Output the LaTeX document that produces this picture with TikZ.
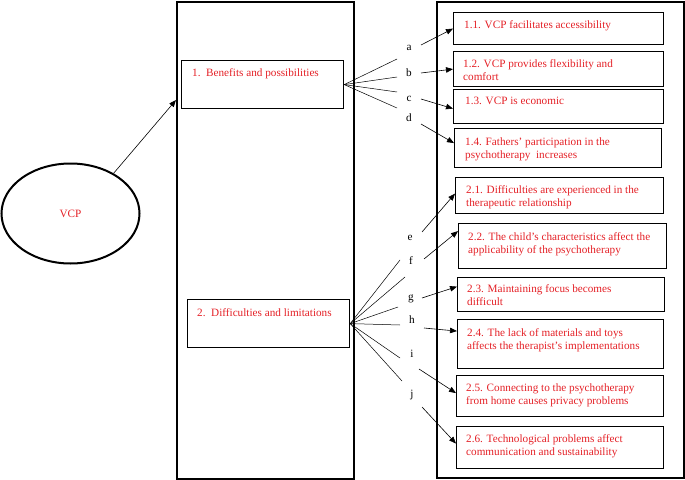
\documentclass[tikz,border=0pt]{standalone}
\usepackage{fontspec}
\setmainfont{Liberation Serif}
\usetikzlibrary{arrows.meta,calc,shapes.geometric}
\definecolor{txtred}{RGB}{228,32,38}
\begin{document}
\begin{tikzpicture}[x=1pt,y=-1pt,
  bigbox/.style={draw, line width=1.7pt, anchor=north west, inner sep=0pt},
  subbox/.style={draw, line width=1.2pt, anchor=north west, inner sep=0pt},
  boxtext/.style={anchor=north west, text=txtred, font=\fontsize{11.2}{13}\selectfont, align=left, inner sep=0pt},
  lbl/.style={font=\fontsize{11.2}{13}\selectfont, inner sep=0pt},
  fan/.style={line width=0.5pt},
  arr/.style={line width=0.6pt, -{Triangle[length=7pt,width=5.5pt]}}]
\useasboundingbox (0,0) rectangle (685,479);

% left part
\node[draw, ellipse, line width=2pt, minimum width=138pt, minimum height=100pt, text=txtred, font=\fontsize{11.2}{13}\selectfont] (vcp) at (70.5,213.5) {VCP};
\node[bigbox, minimum width=177pt, minimum height=477pt] (L) at (176,1) {};
\node[bigbox, minimum width=247pt, minimum height=476pt] (R) at (436,1) {};
\coordinate (Lin) at ($(L.north west)+(0,99)$);
\draw[arr] (vcp.43) -- (Lin);

\node[subbox, minimum width=162pt, minimum height=48pt] (b1) at (181,60) {};
\node[boxtext] (tb1) at (192,68) {1.\ \ Benefits and possibilities};
\node[subbox, minimum width=162pt, minimum height=48pt] (b2) at (187,299) {};
\node[boxtext] (tb2) at (197,308) {2.\ \ Difficulties and limitations};

% right boxes
\node[subbox, minimum width=210pt, minimum height=32pt] (b11) at (453,12) {};
\node[subbox, minimum width=210pt, minimum height=35pt] (b12) at (453,51) {};
\node[subbox, minimum width=210pt, minimum height=34pt] (b13) at (453,89) {};
\node[subbox, minimum width=207pt, minimum height=39pt] (b14) at (454,128) {};
\node[subbox, minimum width=208pt, minimum height=36pt] (b21) at (455,177) {};
\node[subbox, minimum width=208pt, minimum height=45pt] (b22) at (458,223) {};
\node[subbox, minimum width=207pt, minimum height=34pt] (b23) at (457,277) {};
\node[subbox, minimum width=206pt, minimum height=49pt] (b24) at (457,319) {};
\node[subbox, minimum width=207pt, minimum height=41pt] (b25) at (456,375) {};
\node[subbox, minimum width=207pt, minimum height=42pt] (b26) at (456,426) {};

\node[boxtext] (t11) at (464,20) {1.1. VCP facilitates accessibility};
\node[boxtext] (t12) at (463,59) {1.2. VCP provides flexibility and\\comfort};
\node[boxtext] (t13) at (465,97) {1.3. VCP is economic};
\node[boxtext] (t14) at (465,138) {1.4. Fathers’ participation in the\\psychotherapy\ \ increases};
\node[boxtext] (t21) at (466,185) {2.1. Difficulties are experienced in the\\therapeutic relationship};
\node[boxtext] (t22) at (468,232) {2.2. The child’s characteristics affect the\\applicability of the psychotherapy};
\node[boxtext] (t23) at (467,284) {2.3. Maintaining focus becomes\\difficult};
\node[boxtext] (t24) at (467,328) {2.4. The lack of materials and toys\\affects the therapist’s implementations};
\node[boxtext] (t25) at (466,384) {2.5. Connecting to the psychotherapy\\from home causes privacy problems};
\node[boxtext] (t26) at (466,434) {2.6. Technological problems affect\\communication and sustainability};

% letters
\node[lbl] (la) at (409,48) {a};
\node[lbl] (lb) at (409,73) {b};
\node[lbl] (lc) at (409,99) {c};
\node[lbl] (ld) at (409,118) {d};
\node[lbl] (le) at (410,238) {e};
\node[lbl] (lf) at (411,261) {f};
\node[lbl] (lg) at (411,299) {g};
\node[lbl] (lh) at (412,320) {h};
\node[lbl] (li) at (412,354) {i};
\node[lbl] (lj) at (412,395) {j};

% fan ends
\coordinate (fa) at (397,59);
\coordinate (fb) at (397,77);
\coordinate (fc) at (397,92);
\coordinate (fd) at (397,108);
\coordinate (fe) at (400,260);
\coordinate (ff) at (405,277);
\coordinate (fg) at (398,307);
\coordinate (fh) at (400,325);
\coordinate (fi) at (400,358);
\coordinate (fj) at (402,381);
\foreach \k in {a,b,c,d} \draw[fan] (b1.east) -- (f\k);
\foreach \k in {e,f,g,h,i,j} \draw[fan] (b2.east) -- (f\k);

% arrow starts
\coordinate (sa) at (421,45);
\coordinate (sb) at (421,73);
\coordinate (sc) at (421,99);
\coordinate (sd) at (421,124);
\coordinate (se) at (422,232);
\coordinate (sf) at (424,259);
\coordinate (sg) at (422,298);
\coordinate (sh) at (424,328);
\coordinate (si) at (419,369);
\coordinate (sj) at (422,407);

\draw[arr] (sa) -- (b11.west);
\draw[arr] (sb) -- (b12.west);
\draw[arr] (sc) -- ([yshift=-2pt]b13.west);
\draw[arr] (sd) -- ([yshift=5pt]b14.west);
\draw[arr] (se) -- ([yshift=2pt]b21.west);
\draw[arr] (sf) -- ([yshift=15pt]b22.west);
\draw[arr] (sg) -- ([yshift=8pt]b23.west);
\draw[arr] (sh) -- ([yshift=13pt]b24.west);
\draw[arr] (si) -- ([yshift=3pt]b25.west);
\draw[arr] (sj) -- ([yshift=4pt]b26.west);
\end{tikzpicture}
\end{document}
